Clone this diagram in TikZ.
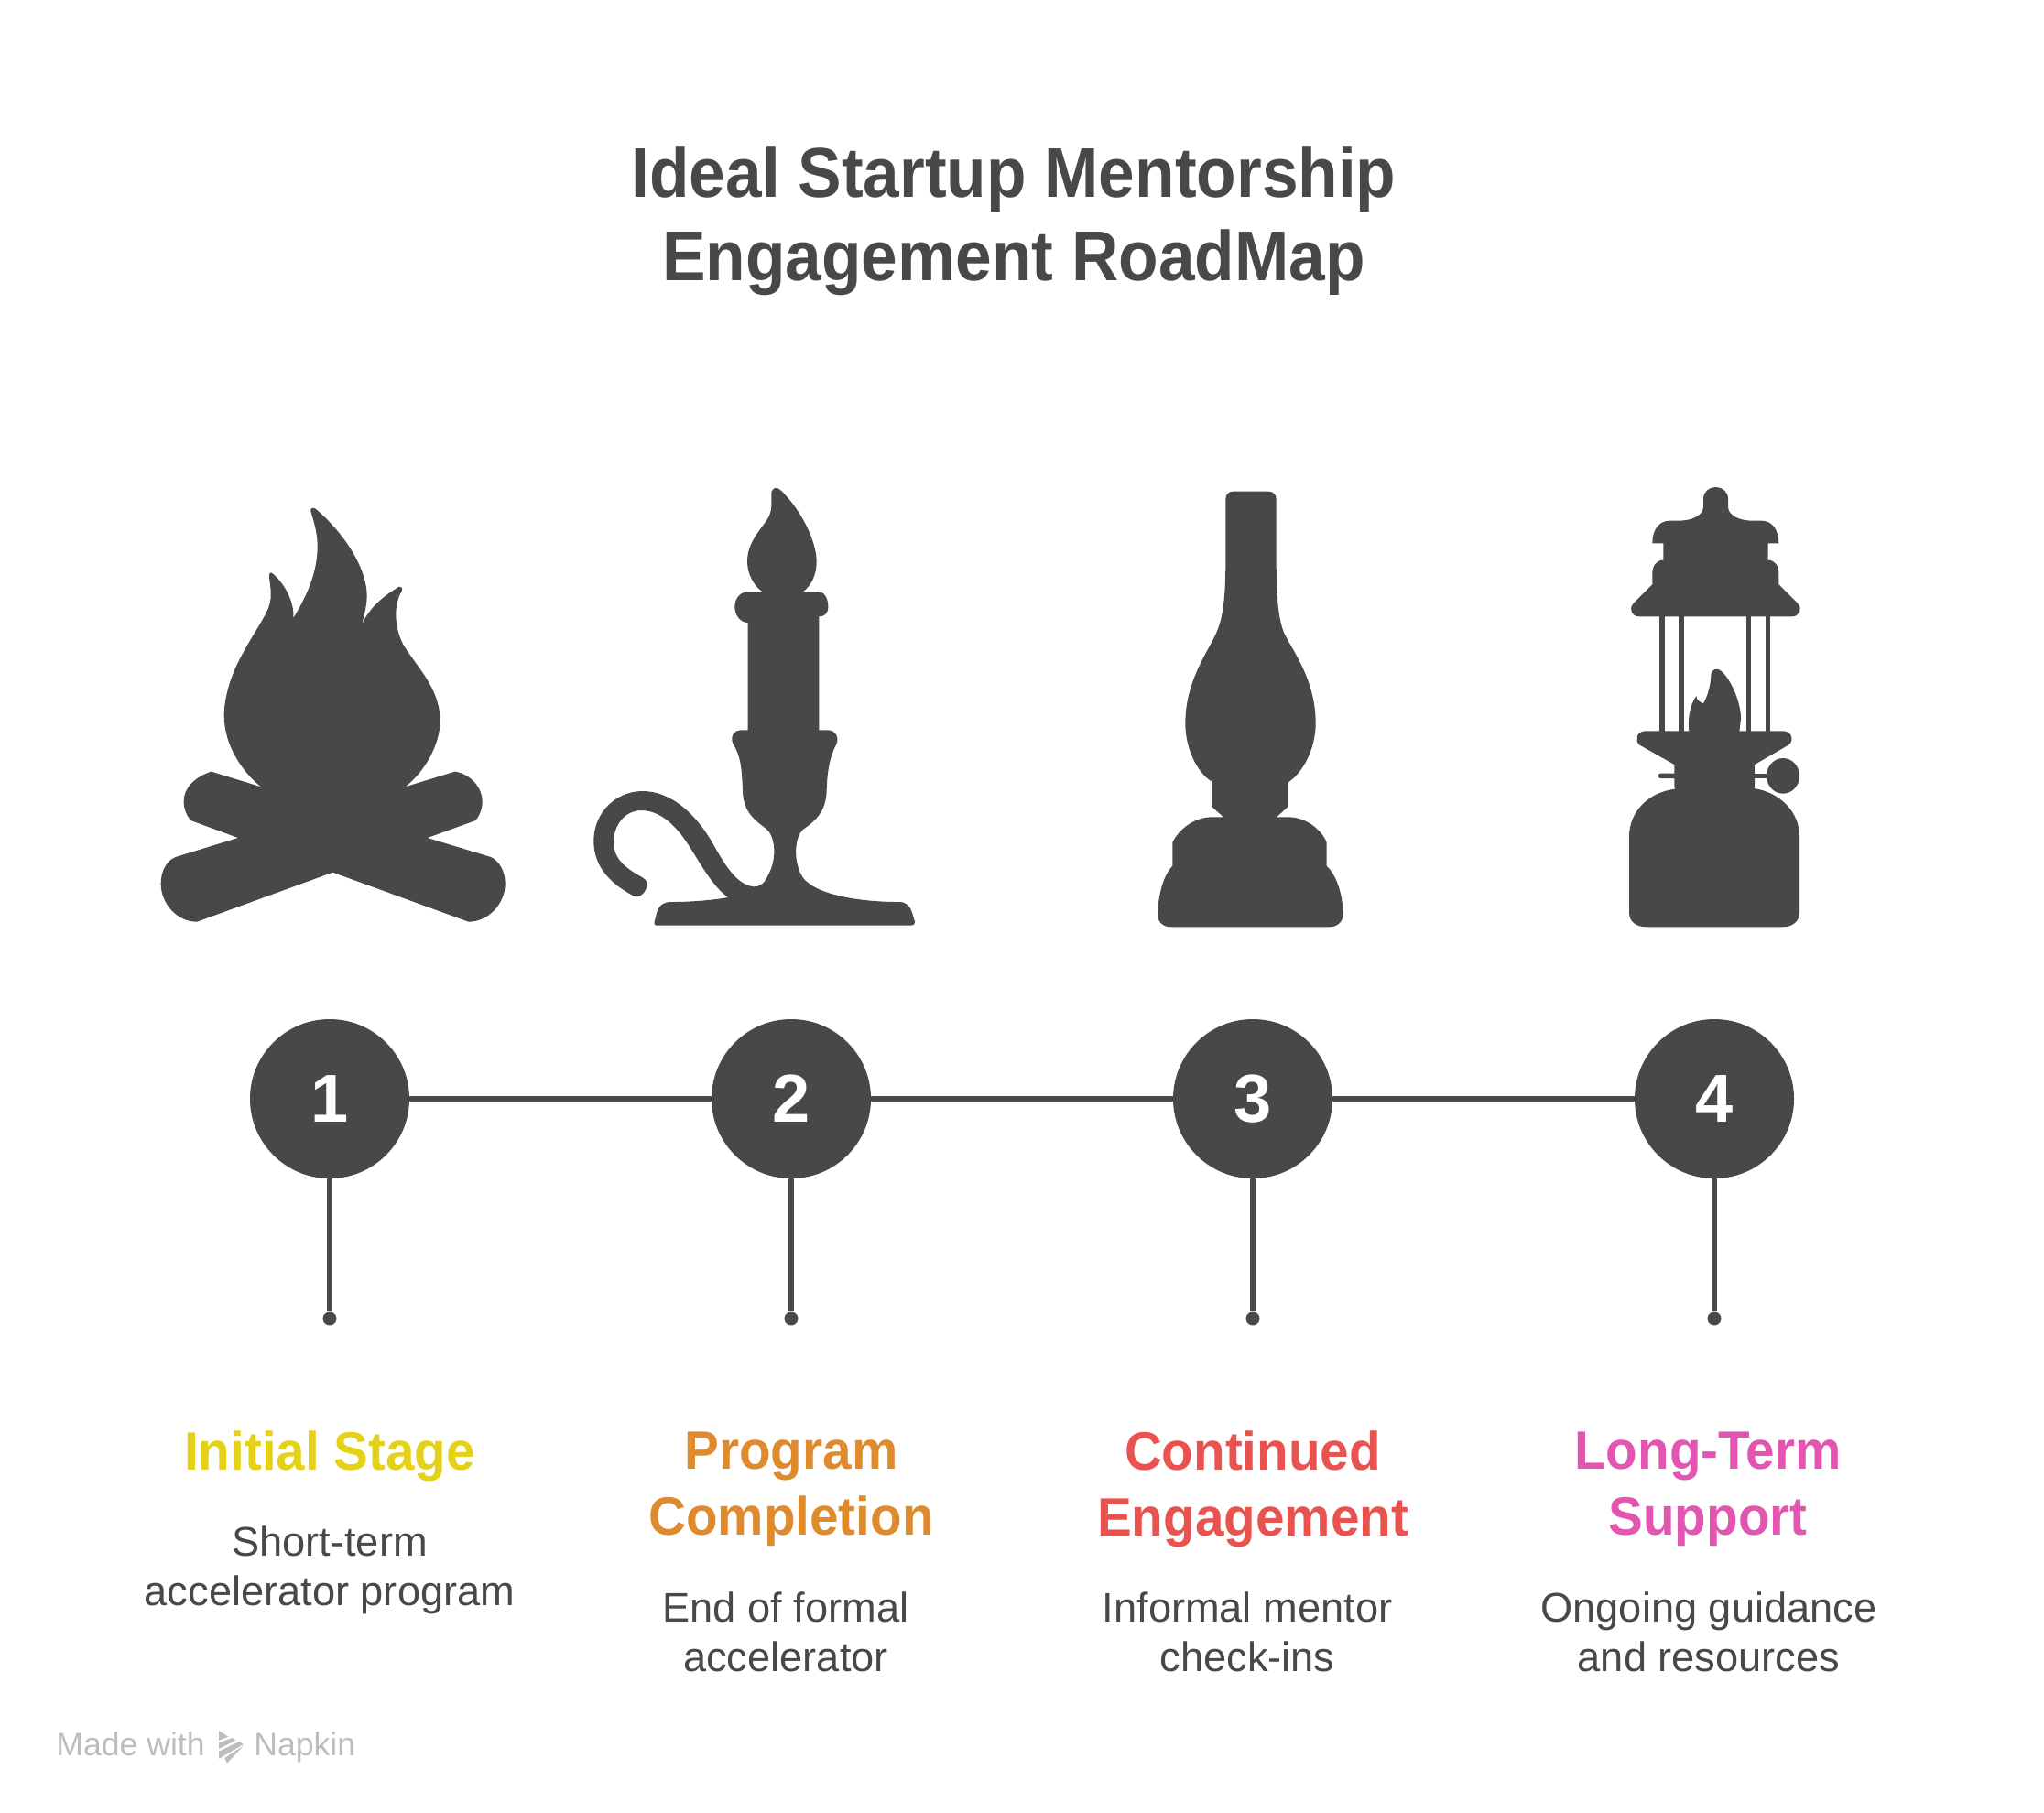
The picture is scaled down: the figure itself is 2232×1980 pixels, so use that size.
\documentclass[tikz,border=0pt]{standalone}
\usepackage{fontspec}
\setmainfont{Liberation Sans}
\newfontfamily\titlefam[FakeStretch=0.925]{Liberation Sans}
\newfontfamily\headfam[FakeStretch=0.96]{Liberation Sans}
\definecolor{ink}{HTML}{484848}
\definecolor{hyellow}{HTML}{E4D118}
\definecolor{horange}{HTML}{E08A2E}
\definecolor{hred}{HTML}{E8524F}
\definecolor{hpink}{HTML}{E255B0}
\definecolor{foot}{HTML}{BDBDBD}
\tikzset{
  zoomed/.style={shift={(#1)},x=0.166667pt,y=-0.166667pt},
  icon/.style={fill=ink,draw=none},
  numdisc/.style={circle,fill=ink,text=white,minimum size=87pt,inner sep=0pt,font=\fontsize{37}{37}\selectfont\bfseries},
  enddot/.style={circle,fill=ink,minimum size=7.5pt,inner sep=0pt},
  link/.style={draw=ink,line width=3pt},
  heading/.style={align=center,font=\headfam\fontsize{29.5}{36}\selectfont\bfseries},
  descr/.style={align=center,text=ink,font=\fontsize{22.6}{27}\selectfont},
  titletext/.style={align=center,text=ink,font=\titlefam\fontsize{38.5}{45.5}\selectfont\bfseries},
  foottext/.style={text=foot,font=\fontsize{17.8}{17.8}\selectfont,inner sep=0pt}
}
\begin{document}
\begin{tikzpicture}[x=0.5pt,y=-0.5pt]
\useasboundingbox (0,0) rectangle (2232,1980);
\node[titletext] (title) at (1107,241) {Ideal Startup Mentorship\\Engagement RoadMap};

% campfire
\begin{scope}[zoomed={150,520}]
\fill[icon] (568,115) .. controls (566,105) and (575,100) .. (585,108)
 .. controls (680,190) and (750,300) .. (752,390) .. controls (752,420) and (745,450) .. (735,487)
 .. controls (760,430) and (810,390) .. (858,362) .. controls (865,360) and (870,368) .. (866,376)
 .. controls (840,420) and (840,490) .. (870,550) .. controls (910,620) and (990,690) .. (992,800)
 .. controls (992,880) and (940,970) .. (877,1018) -- (1040,968)
 .. controls (1090,975) and (1130,1020) .. (1130,1065) .. controls (1130,1095) and (1118,1115) .. (1108,1128)
 -- (950,1185) -- (1158,1248) .. controls (1185,1260) and (1205,1295) .. (1205,1335)
 .. controls (1205,1400) and (1150,1460) .. (1085,1460) -- (640,1298) -- (195,1460)
 .. controls (130,1460) and (77,1400) .. (77,1335) .. controls (77,1295) and (95,1260) .. (125,1248)
 -- (330,1185) -- (175,1128) .. controls (160,1110) and (152,1090) .. (152,1065)
 .. controls (152,1020) and (190,985) .. (242,968) -- (405,1018)
 .. controls (340,965) and (285,880) .. (284,785) .. controls (284,720) and (310,650) .. (330,610)
 .. controls (370,530) and (415,470) .. (430,430) .. controls (445,390) and (432,350) .. (432,325)
 .. controls (432,315) and (438,314) .. (444,320) .. controls (480,350) and (515,410) .. (511,465)
 .. controls (560,385) and (590,310) .. (590,230) .. controls (590,180) and (575,140) .. (568,115) -- cycle;
\end{scope}

% candle
\begin{scope}[zoomed={620,510}]
\fill[icon] (667,90) .. controls (666,68) and (686,62) .. (697,76)
 .. controls (760,135) and (815,240) .. (815,310) .. controls (815,350) and (800,385) .. (772,408)
 -- (820,408) .. controls (840,408) and (853,430) .. (853,458) .. controls (853,480) and (840,490) .. (823,490)
 -- (823,862) -- (855,862) .. controls (875,862) and (890,885) .. (880,908)
 .. controls (860,945) and (850,990) .. (848,1060) .. controls (846,1130) and (810,1160) .. (770,1188)
 .. controls (745,1210) and (735,1290) .. (770,1345) .. controls (810,1400) and (950,1425) .. (1085,1425)
 .. controls (1110,1425) and (1122,1440) .. (1128,1460) -- (1137,1490)
 .. controls (1138,1498) and (1132,1502) .. (1125,1502) -- (290,1502)
 .. controls (283,1502) and (282,1495) .. (284,1490) -- (293,1455)
 .. controls (300,1435) and (315,1425) .. (340,1425) .. controls (400,1425) and (470,1420) .. (525,1410)
 .. controls (470,1370) and (430,1290) .. (390,1230) .. controls (350,1170) and (300,1125) .. (240,1125)
 .. controls (190,1125) and (150,1170) .. (150,1230) .. controls (150,1290) and (200,1320) .. (245,1345)
 .. controls (262,1355) and (265,1370) .. (255,1385) .. controls (245,1405) and (230,1412) .. (215,1405)
 .. controls (170,1380) and (85,1330) .. (85,1225) .. controls (85,1130) and (160,1062) .. (245,1062)
 .. controls (340,1062) and (420,1140) .. (470,1225) .. controls (510,1295) and (550,1370) .. (610,1375)
 .. controls (640,1375) and (650,1350) .. (660,1330) .. controls (685,1280) and (680,1210) .. (650,1185)
 .. controls (610,1155) and (575,1130) .. (573,1060) .. controls (570,980) and (565,945) .. (542,908)
 .. controls (530,885) and (545,862) .. (565,862) -- (590,862) -- (590,510)
 .. controls (565,510) and (547,485) .. (547,458) .. controls (547,430) and (565,408) .. (595,408)
 -- (637,408) .. controls (610,390) and (588,350) .. (588,310)
 .. controls (588,240) and (640,200) .. (660,160) .. controls (672,130) and (665,110) .. (667,90) -- cycle;
\end{scope}

% oil lamp
\begin{scope}[zoomed={1230,510}]
\fill[icon] (325,105) .. controls (325,90) and (335,80) .. (350,80) -- (465,80)
 .. controls (480,80) and (491,90) .. (491,105) -- (491,300)
 .. controls (491,400) and (495,490) .. (515,540) .. controls (535,590) and (620,690) .. (620,840)
 .. controls (620,920) and (580,1000) .. (530,1033) -- (530,1112) -- (492,1147) -- (530,1147)
 .. controls (590,1147) and (640,1190) .. (656,1230) -- (656,1307)
 .. controls (690,1340) and (708,1400) .. (710,1465) .. controls (710,1490) and (690,1507) .. (665,1507)
 -- (145,1507) .. controls (120,1507) and (102,1490) .. (102,1465)
 .. controls (105,1400) and (120,1340) .. (151,1307) -- (151,1230)
 .. controls (170,1190) and (220,1147) .. (280,1147) -- (318,1147) -- (279,1112) -- (279,1030)
 .. controls (230,1000) and (193,920) .. (193,840) .. controls (193,690) and (280,590) .. (300,530)
 .. controls (320,480) and (325,400) .. (325,300) -- cycle;
\end{scope}

% lantern
\begin{scope}[zoomed={1750,510}]
\fill[icon] (330,105) .. controls (330,80) and (350,66) .. (370,66) .. controls (392,66) and (411,80) .. (411,105)
 -- (411,130) .. controls (411,160) and (450,176) .. (490,176) -- (520,176)
 .. controls (555,176) and (577,205) .. (577,250) -- (542,250) -- (542,305)
 .. controls (565,305) and (577,325) .. (577,350) -- (577,385) -- (640,448)
 .. controls (655,465) and (645,490) .. (620,490) -- (120,490)
 .. controls (95,490) and (85,465) .. (100,448) -- (163,385) -- (163,350)
 .. controls (163,325) and (175,305) .. (199,305) -- (199,250) -- (163,250)
 .. controls (163,205) and (185,176) .. (220,176) -- (250,176)
 .. controls (290,176) and (330,160) .. (330,130) -- cycle;
\fill[icon] (187,480) rectangle (204,880);
\fill[icon] (250,480) rectangle (267,880);
\fill[icon] (470,480) rectangle (487,880);
\fill[icon] (533,480) rectangle (550,880);
\fill[icon] (355,680) .. controls (358,662) and (375,656) .. (388,668)
 .. controls (420,695) and (453,770) .. (453,825) -- (447,875) -- (285,875)
 .. controls (276,835) and (285,780) .. (307,750) .. controls (308,765) and (318,770) .. (330,775)
 .. controls (345,750) and (355,710) .. (355,680) -- cycle;
\fill[icon] (140,865) -- (590,865) .. controls (620,865) and (628,895) .. (610,910)
 -- (498,975) -- (498,1050) -- (495,1053) .. controls (580,1065) and (645,1130) .. (645,1210)
 -- (645,1460) .. controls (645,1490) and (620,1507) .. (590,1507) -- (145,1507)
 .. controls (110,1507) and (87,1490) .. (87,1460) -- (87,1210)
 .. controls (87,1130) and (150,1065) .. (238,1055) -- (235,1050) -- (235,975) -- (120,910)
 .. controls (105,895) and (112,865) .. (140,865) -- cycle;
\fill[icon] (591,1012) ellipse [x radius=54,y radius=58];
\fill[icon,rounded corners=1.3pt] (182,1004) rectangle (245,1020);
\fill[icon] (490,1004) rectangle (545,1020);
\end{scope}

% timeline
\node[numdisc] (n1) at (360,1200) {1};
\node[numdisc] (n2) at (864,1200) {2};
\node[numdisc] (n3) at (1368,1200) {3};
\node[numdisc] (n4) at (1872,1200) {4};
\node[enddot] (d1) at (360,1440) {};
\node[enddot] (d2) at (864,1440) {};
\node[enddot] (d3) at (1368,1440) {};
\node[enddot] (d4) at (1872,1440) {};
\draw[link] (n1) -- (n2);
\draw[link] (n2) -- (n3);
\draw[link] (n3) -- (n4);
\draw[link] (n1) -- (d1);
\draw[link] (n2) -- (d2);
\draw[link] (n3) -- (d3);
\draw[link] (n4) -- (d4);

% labels
\node[heading,text=hyellow] (h1) at (360,1590) {Initial Stage};
\node[heading,text=horange] (h2) at (864,1626) {Program\\Completion};
\node[heading,text=hred] (h3) at (1368,1626) {Continued\\Engagement};
\node[heading,text=hpink] (h4) at (1865,1626) {Long-Term\\Support};
\node[descr] (t1) at (360,1715) {Short-term\\accelerator program};
\node[descr] (t2) at (858,1782) {End of formal\\accelerator};
\node[descr] (t3) at (1362,1782) {Informal mentor\\check-ins};
\node[descr] (t4) at (1866,1782) {Ongoing guidance\\and resources};

% footer
\node[foottext,anchor=base west] (made) at (61,1917) {Made with};
\node[foottext,anchor=base west] (napkin) at (277,1917) {Napkin};
\begin{scope}[zoomed={40,1870}]
\fill[foot] (597,60) -- (628,80) -- (597,92) -- cycle;
\fill[foot] (597,100) -- (642,84) -- (652,92) -- (597,120) -- cycle;
\fill[foot] (597,128) -- (664,96) -- (677,105) -- (597,152) -- cycle;
\fill[foot] (616,150) -- (677,110) -- (624,167) -- cycle;
\end{scope}
\end{tikzpicture}
\end{document}
